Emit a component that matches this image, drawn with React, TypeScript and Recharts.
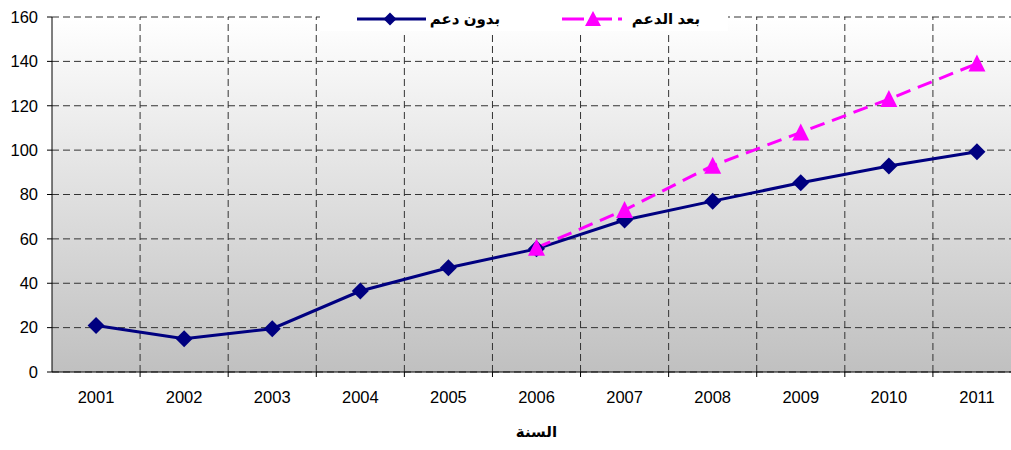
import { LineChart, Line, XAxis, YAxis, CartesianGrid, ReferenceLine } from 'recharts';

const years = ['2001', '2002', '2003', '2004', '2005', '2006', '2007', '2008', '2009', '2010', '2011'];
const withoutSupport = [21, 15, 19.5, 36.5, 47, 55.5, 68.5, 77, 85.3, 92.8, 99.3];
const withSupport = [null, null, null, null, null, 56, 73, 93, 108, 123, 139];
const yTicks = [0, 20, 40, 60, 80, 100, 120, 140, 160];

const seriesNames = { without: 'بدون دعم', with: 'بعد الدعم' };
const axisTitle = 'السنة';

const NAVY = '#000080';
const PINK = '#ff00ff';
const GRID = '#333333';
const FONT = 'Arial, "Liberation Sans", "DejaVu Sans", sans-serif';

const data = years.map((year, i) => ({
  x: i + 1,
  year,
  without: withoutSupport[i],
  with: withSupport[i],
}));

// category centres carry the labels, the half steps carry tick marks / grid
const xTicks = years.flatMap((_, i) => [i + 1, i + 1.5]);
const boundaries = years.map((_, i) => i + 1.5);

function XTick(props: any) {
  const { x, y, payload } = props;
  const v = payload.value as number;
  if (Number.isInteger(v)) {
    return (
      <text x={x} y={y + 31} textAnchor="middle" fill="#000" fontSize={16.5} fontFamily={FONT}>
        {years[v - 1]}
      </text>
    );
  }
  return <line x1={x} x2={x} y1={y} y2={y + 5} stroke="#000" />;
}

function Diamond(props: any) {
  const { cx, cy, index } = props;
  if (cx == null || cy == null) return <g key={`d${index}`} />;
  const s = 8.5;
  return (
    <path
      key={`d${index}`}
      d={`M${cx},${cy - s} L${cx + s},${cy} L${cx},${cy + s} L${cx - s},${cy} Z`}
      fill={NAVY}
    />
  );
}

function Triangle(props: any) {
  const { cx, cy, index, payload } = props;
  if (cx == null || cy == null || payload.with == null) return <g key={`t${index}`} />;
  return (
    <path
      key={`t${index}`}
      d={`M${cx},${cy - 9} L${cx + 8.5},${cy + 8} L${cx - 8.5},${cy + 8} Z`}
      fill={PINK}
    />
  );
}

function LegendBox() {
  return (
    <svg
      width={408}
      height={31}
      style={{ position: 'absolute', left: 320, top: 0, background: '#fff', overflow: 'visible' }}
    >
      <line x1={37} x2={106} y1={19} y2={19} stroke={NAVY} strokeWidth={3} />
      <path d="M70,12.5 L76.5,19 L70,25.5 L63.5,19 Z" fill={NAVY} />
      <text x={145} y={24} textAnchor="middle" fontSize={15} fontWeight="bold" fontFamily={FONT} fill="#000">
        {seriesNames.without}
      </text>
      <line x1={242} x2={302} y1={19} y2={19} stroke={PINK} strokeWidth={3} strokeDasharray="22 6" />
      <path d="M273,11 L281,26 L265,26 Z" fill={PINK} />
      <text x={346} y={24} textAnchor="middle" fontSize={15} fontWeight="bold" fontFamily={FONT} fill="#000">
        {seriesNames.with}
      </text>
    </svg>
  );
}

export default function App() {
  return (
    <div
      style={{
        position: 'absolute',
        left: 0,
        top: 0,
        width: 1011,
        height: 450,
        overflow: 'hidden',
        background: '#fff',
      }}
    >
      <LineChart width={1030} height={450} data={data} margin={{ top: 17, right: 9, left: 0, bottom: 0 }}>
        <defs>
          <linearGradient id="plotBg" x1="0" y1="0" x2="0" y2="1">
            <stop offset="0%" stopColor="#ffffff" />
            <stop offset="100%" stopColor="#c0c0c0" />
          </linearGradient>
        </defs>
        <CartesianGrid
          fill="url(#plotBg)"
          vertical={false}
          stroke={GRID}
          strokeDasharray="7 4"
        />
        {boundaries.map((b) => (
          <ReferenceLine key={b} x={b} stroke={GRID} strokeDasharray="7 4" />
        ))}
        <XAxis
          type="number"
          dataKey="x"
          domain={[0.5, 11.5]}
          ticks={xTicks}
          interval={0}
          tickLine={false}
          tickSize={0}
          tickMargin={0}
          height={78}
          axisLine={{ stroke: '#000' }}
          tick={<XTick />}
          label={{
            value: axisTitle,
            position: 'insideBottom',
            offset: 13,
            fill: '#000',
            fontSize: 15,
            fontWeight: 'bold',
            fontFamily: FONT,
          }}
        />
        <YAxis
          domain={[0, 160]}
          ticks={yTicks}
          interval={0}
          width={52}
          tickSize={5}
          tickMargin={9}
          axisLine={{ stroke: '#000' }}
          tickLine={{ stroke: '#000' }}
          tick={{ fill: '#000', fontSize: 16.5, fontFamily: FONT }}
        />
        <Line
          type="linear"
          dataKey="without"
          name={seriesNames.without}
          stroke={NAVY}
          strokeWidth={3}
          dot={Diamond}
          activeDot={false}
          isAnimationActive={false}
        />
        <Line
          type="linear"
          dataKey="with"
          name={seriesNames.with}
          stroke={PINK}
          strokeWidth={3}
          strokeDasharray="15 8"
          dot={Triangle}
          activeDot={false}
          connectNulls={false}
          isAnimationActive={false}
        />
      </LineChart>
      <LegendBox />
    </div>
  );
}
